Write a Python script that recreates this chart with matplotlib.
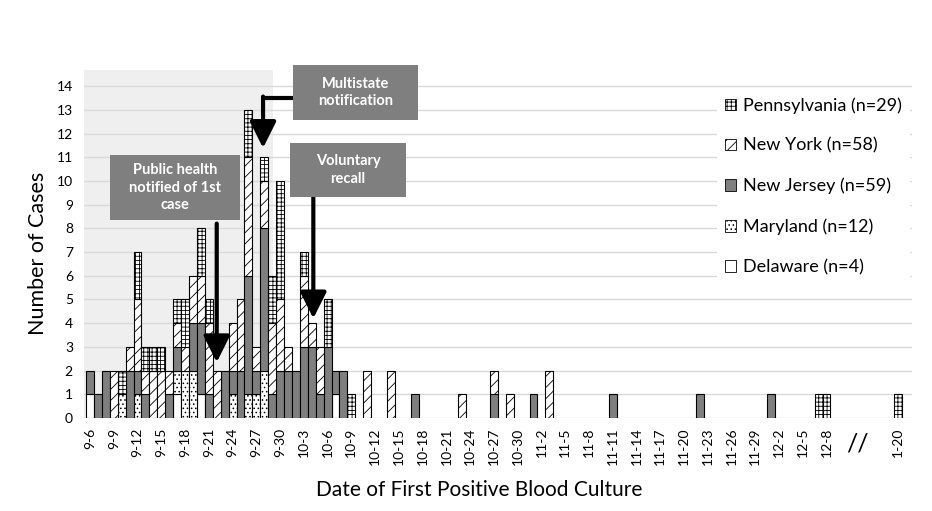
import matplotlib
matplotlib.use('Agg')
import matplotlib.pyplot as plt
from matplotlib.patches import Rectangle, Patch
import pandas as pd

plt.rcParams['font.family'] = ['Lato', 'DejaVu Sans']
plt.rcParams['hatch.linewidth'] = 0.6

# dates with at least one case
case_dates = ['9-6', '9-7', '9-8', '9-9', '9-10', '9-11', '9-12', '9-13', '9-14', '9-15',
              '9-16', '9-17', '9-18', '9-19', '9-20', '9-21', '9-22', '9-23', '9-24', '9-25',
              '9-26', '9-27', '9-28', '9-29', '9-30', '10-1', '10-2', '10-3', '10-4', '10-5',
              '10-6', '10-7', '10-8', '10-9', '10-11', '10-14', '10-17', '10-23', '10-27', '10-29',
              '11-1', '11-3', '11-11', '11-22', '12-1', '12-7', '12-8', '1-20']

delaware = [1, 0, 0, 0, 0, 0, 0, 0, 0, 0,
            0, 1, 0, 0, 1, 0, 0, 0, 0, 0,
            0, 0, 0, 0, 0, 0, 0, 0, 0, 0,
            0, 1, 0, 0, 0, 0, 0, 0, 0, 0,
            0, 0, 0, 0, 0, 0, 0, 0]
maryland = [0, 0, 0, 0, 1, 0, 1, 0, 0, 0,
            0, 1, 2, 2, 0, 0, 0, 0, 1, 0,
            1, 1, 2, 0, 0, 0, 0, 0, 0, 0,
            0, 0, 0, 0, 0, 0, 0, 0, 0, 0,
            0, 0, 0, 0, 0, 0, 0, 0]
new_jersey = [1, 1, 2, 0, 0, 2, 1, 1, 0, 0,
              1, 1, 0, 2, 3, 1, 0, 2, 1, 2,
              5, 1, 6, 1, 2, 2, 2, 3, 3, 1,
              3, 1, 2, 0, 0, 0, 1, 0, 1, 0,
              1, 0, 1, 1, 1, 0, 0, 0]
new_york = [0, 0, 0, 2, 0, 1, 3, 1, 2, 2,
            1, 1, 1, 2, 2, 3, 2, 0, 2, 3,
            5, 1, 2, 3, 3, 1, 0, 3, 1, 2,
            0, 0, 0, 0, 2, 2, 0, 1, 1, 1,
            0, 2, 0, 0, 0, 0, 0, 0]
pennsylvania = [0, 0, 0, 0, 1, 0, 2, 1, 1, 1,
                0, 1, 2, 0, 2, 1, 0, 0, 0, 0,
                2, 0, 1, 2, 5, 0, 0, 1, 0, 0,
                2, 0, 0, 1, 0, 0, 0, 0, 0, 0,
                0, 0, 0, 0, 0, 1, 1, 1]

states = ['Delaware (n=4)', 'Maryland (n=12)', 'New Jersey (n=59)',
          'New York (n=58)', 'Pennsylvania (n=29)']
series = [delaware, maryland, new_jersey, new_york, pennsylvania]
fills = ['white', 'white', '#7f7f7f', 'white', 'white']
hatches = [None, '....', None, '///', '++++']

tick_labels = ['9-6', '9-9', '9-12', '9-15', '9-18', '9-21', '9-24', '9-27', '9-30',
               '10-3', '10-6', '10-9', '10-12', '10-15', '10-18', '10-21', '10-24',
               '10-27', '10-30', '11-2', '11-5', '11-8', '11-11', '11-14', '11-17',
               '11-20', '11-23', '11-26', '11-29', '12-2', '12-5', '12-8', '1-20']

# daily axis 9-6 .. 12-8, then a break, then 1-20
days = [f'{d.month}-{d.day}' for d in pd.date_range('2016-09-06', '2016-12-08')]
GAP = 8
slot = {d: i for i, d in enumerate(days)}
slot['1-20'] = len(days) + GAP
pos = [slot[d] for d in case_dates]

W, H = 932, 511
fig = plt.figure(figsize=(W / 100, H / 100), dpi=100)
ax = fig.add_axes([84 / W, 1 - 418 / H, 828 / W, 348 / H])


def fx(x, y):
    return (x / W, 1 - y / H)


ax.set_xlim(-0.76, 103.8)
ax.set_ylim(0, 14.68)
ax.axvspan(-0.76, 23.1, color='#efefef', zorder=0, lw=0)

bottom = [0] * len(pos)
for name, vals, fc, h in zip(states, series, fills, hatches):
    xs = [p for p, v in zip(pos, vals) if v > 0]
    hs = [v for v in vals if v > 0]
    bs = [b for b, v in zip(bottom, vals) if v > 0]
    ax.bar(xs, hs, bottom=bs, width=1.0, color=fc, hatch=h,
           edgecolor='black', linewidth=0.8, zorder=2)
    bottom = [b + v for b, v in zip(bottom, vals)]

ax.set_yticks(range(15))
ax.yaxis.grid(True, color='#d9d9d9', lw=1)
ax.set_axisbelow(True)
for s in ax.spines.values():
    s.set_visible(False)
ax.tick_params(axis='y', length=0, pad=8, labelsize=10)
ax.tick_params(axis='x', length=0, pad=7, labelsize=10)
ax.set_xticks([slot[t] for t in tick_labels])
ax.set_xticklabels(tick_labels, rotation=90)

fig.text(*fx(479, 490), 'Date of First Positive Blood Culture', ha='center', va='center', fontsize=15)
fig.text(*fx(38, 253), 'Number of Cases', ha='center', va='center', rotation=90, fontsize=15.5)
fig.text(*fx(857, 444), '//', ha='center', va='center', fontsize=18)

# legend, top to bottom
handles = [Patch(facecolor=fc, hatch=h, edgecolor='black', linewidth=0.6)
           for fc, h in zip(fills, hatches)][::-1]
leg = ax.legend(handles, states[::-1], loc='upper left',
                bbox_to_anchor=fx(708, 80), bbox_transform=fig.transFigure,
                fontsize=13, frameon=True, framealpha=1, facecolor='white',
                edgecolor='none', handlelength=0.62, handleheight=0.62,
                handletextpad=0.35, labelspacing=1.33, borderpad=0.45)
leg.get_frame().set_boxstyle('square', pad=0)

# callout boxes
boxes = [((110, 155, 130, 65), 'Public health\nnotified of 1st\ncase'),
         ((293, 65, 125, 55), 'Multistate\nnotification'),
         ((290, 143, 116, 54), 'Voluntary\nrecall')]
for (x0, y0, w, h), txt in boxes:
    fig.add_artist(Rectangle(fx(x0, y0 + h), w / W, h / H, transform=fig.transFigure,
                             facecolor='#7f7f7f', edgecolor='none', zorder=5))
    fig.text(*fx(x0 + w / 2, y0 + h / 2), txt, ha='center', va='center', color='white',
             fontsize=10.5, fontweight='bold', linespacing=1.35, zorder=6)

arrow = dict(arrowstyle='-|>,head_width=0.5,head_length=1.0', lw=3, color='black',
             mutation_scale=16, shrinkA=0, shrinkB=0)
ax.annotate('', xy=(16.0, 2.35), xytext=(16.0, 8.2), arrowprops=arrow, annotation_clip=False)
ax.annotate('', xy=(28.2, 4.2), xytext=(28.2, 9.32), arrowprops=arrow, annotation_clip=False)
ax.plot([26.3, 21.85], [13.5, 13.5], color='black', lw=3, clip_on=False, zorder=4,
        solid_capstyle='butt')
ax.annotate('', xy=(21.85, 11.39), xytext=(21.85, 13.56), arrowprops=arrow,
            annotation_clip=False)

fig.savefig('out.png', dpi=100, facecolor='white')
